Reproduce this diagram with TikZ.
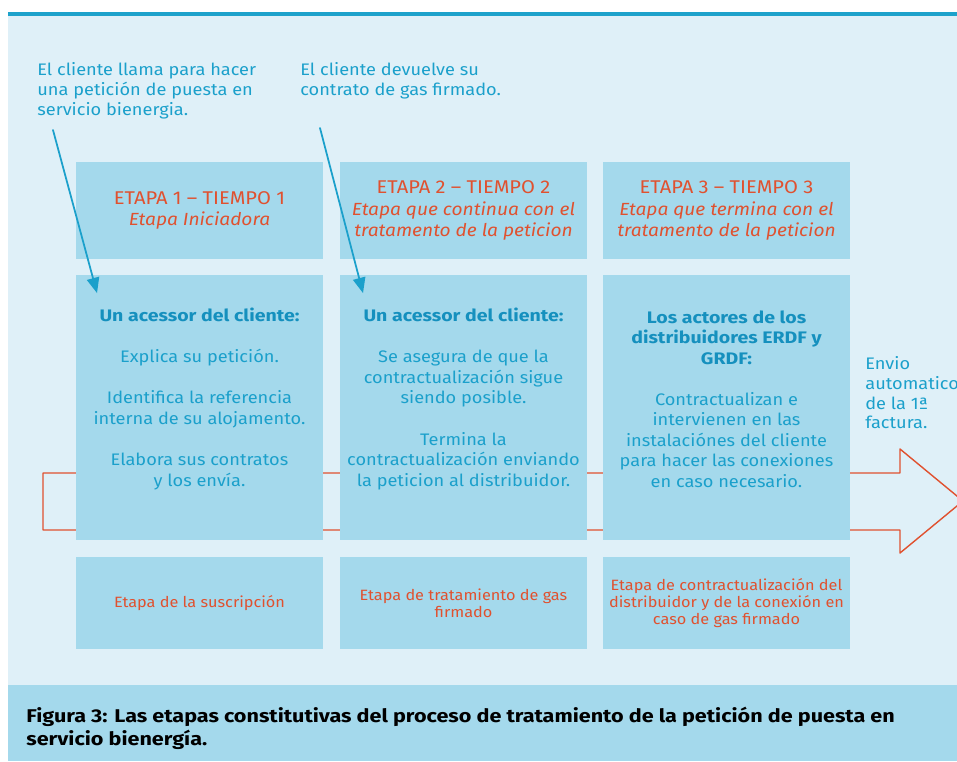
\documentclass[tikz,border=0pt]{standalone}
\usepackage{fontspec}
\setmainfont{Fira Sans}[FakeStretch=1.09]
\newfontfamily\negrita{Fira Sans}[FakeStretch=1.17]
\usepackage{tikz}
\usetikzlibrary{arrows}
\definecolor{fondo}{HTML}{DFF0F8}
\definecolor{caja}{HTML}{A4D9EC}
\definecolor{azul}{HTML}{1BA0CB}
\definecolor{azulosc}{HTML}{1590BE}
\definecolor{naranja}{HTML}{E0512F}
\definecolor{linea}{HTML}{1EA2CB}
\tikzset{
  cajaalta/.style={fill=caja,minimum width=4.94cm,minimum height=1.94cm,inner sep=0pt,align=center,text=naranja,font=\fontsize{10}{12}\selectfont},
  cajamedia/.style={fill=caja,minimum width=4.94cm,minimum height=5.3cm,inner sep=0pt},
  cajabaja/.style={fill=caja,minimum width=4.94cm,minimum height=1.84cm,inner sep=0pt,align=center,text=naranja,font=\fontsize{8.5}{9.9}\selectfont},
  cuerpo/.style={align=center,text=azul,inner sep=0pt,font=\fontsize{9.5}{11.7}\selectfont},
  nota/.style={align=left,text=azul,inner sep=0pt,font=\fontsize{9.5}{11.3}\selectfont}
}
\newcommand{\titulo}[1]{{\negrita\bfseries\color{azulosc}#1}}
\begin{document}
\begin{tikzpicture}[line cap=round,line join=round,>=triangle 45,x=0.02cm,y=-0.02cm]
      \useasboundingbox (0,0) rectangle (957,761);
      \clip (0,0) rectangle (957,761);
      \fill[fondo] (8,16) rectangle (957,685);
      \fill[caja] (8,685) rectangle (957,761);
      \fill[linea] (8,12) rectangle (957,16);
      % flecha de fondo
      \draw[naranja,line width=0.8pt] (43,473) -- (900,473) -- (900,449) -- (963,501) -- (900,553) -- (900,530) -- (43,530) -- cycle;
      % etapas
      \node[cajaalta] (e1) at (199.5,210.5) {{\fontsize{10.5}{12}\selectfont ETAPA 1 -- TIEMPO 1}\\\textit{Etapa Iniciadora}};
      \node[cajaalta] (e2) at (463.5,210.5) {{\fontsize{10.5}{12}\selectfont ETAPA 2 -- TIEMPO 2}\\\textit{Etapa que continua con el}\\\textit{tratamento de la peticion}};
      \node[cajaalta] (e3) at (726.5,210.5) {{\fontsize{10.5}{12}\selectfont ETAPA 3 -- TIEMPO 3}\\\textit{Etapa que termina con el}\\\textit{tratamento de la peticion}};
      \foreach \n/\x in {1/199.5,2/463.5,3/726.5}
      \node[cajamedia] (m\n) at (\x,407.5) {};
      \node[cuerpo] (t1) at (199.5,399) {\titulo{Un acessor del cliente:}\\[11.7pt]Explica su petición.\\[11.7pt]Identifica la referencia\\interna de su alojamento.\\[11.7pt]Elabora sus contratos\\y los envía.};
      \node[cuerpo] (t2) at (463.5,399) {\titulo{Un acessor del cliente:}\\[11.7pt]Se asegura de que la\\contractualización sigue\\siendo posible.\\[11.7pt]Termina la\\contractualización enviando\\la peticion al distribuidor.};
      \node[cuerpo] (t3) at (726.5,399) {\titulo{Los actores de los}\\\titulo{distribuidores ERDF y}\\\titulo{GRDF:}\\[11.7pt]Contractualizan e\\intervienen en las\\instalaciónes del cliente\\para hacer las conexiones\\en caso necesario.};
      \node[cajabaja] (b1) at (199.5,603) {Etapa de la suscripción};
      \node[cajabaja] (b2) at (463.5,603) {Etapa de tratamiento de gas\\firmado};
      \node[cajabaja] (b3) at (726.5,603) {Etapa de contractualización del\\distribuidor y de la conexión en\\caso de gas firmado};
      % notas
      \node[nota,anchor=north west] (n1) at (37,62) {El cliente llama para hacer\\una petición de puesta en\\servicio bienergia.};
      \node[nota,anchor=north west] (n2) at (300,62) {El cliente devuelve su\\contrato de gas firmado.};
      \node[nota,anchor=north west] (n3) at (865,356) {Envio\\automatico\\de la 1ª\\factura.};
      \coordinate (f1a) at (53,130);
      \coordinate (f1b) at (97,293);
      \coordinate (f2a) at (320,128);
      \coordinate (f2b) at (363,293);
      \draw[->,color=azul,line width=1pt] (f1a) -- (f1b);
      \draw[->,color=azul,line width=1pt] (f2a) -- (f2b);
      % pie
      \node[anchor=north west,align=left,inner sep=0pt,font=\negrita\bfseries\fontsize{10.5}{13}\selectfont] (pie) at (26,707) {Figura 3: Las etapas constitutivas del proceso de tratamiento de la petición de puesta en\\servicio bienergía.};
    \end{tikzpicture}
\end{document}
